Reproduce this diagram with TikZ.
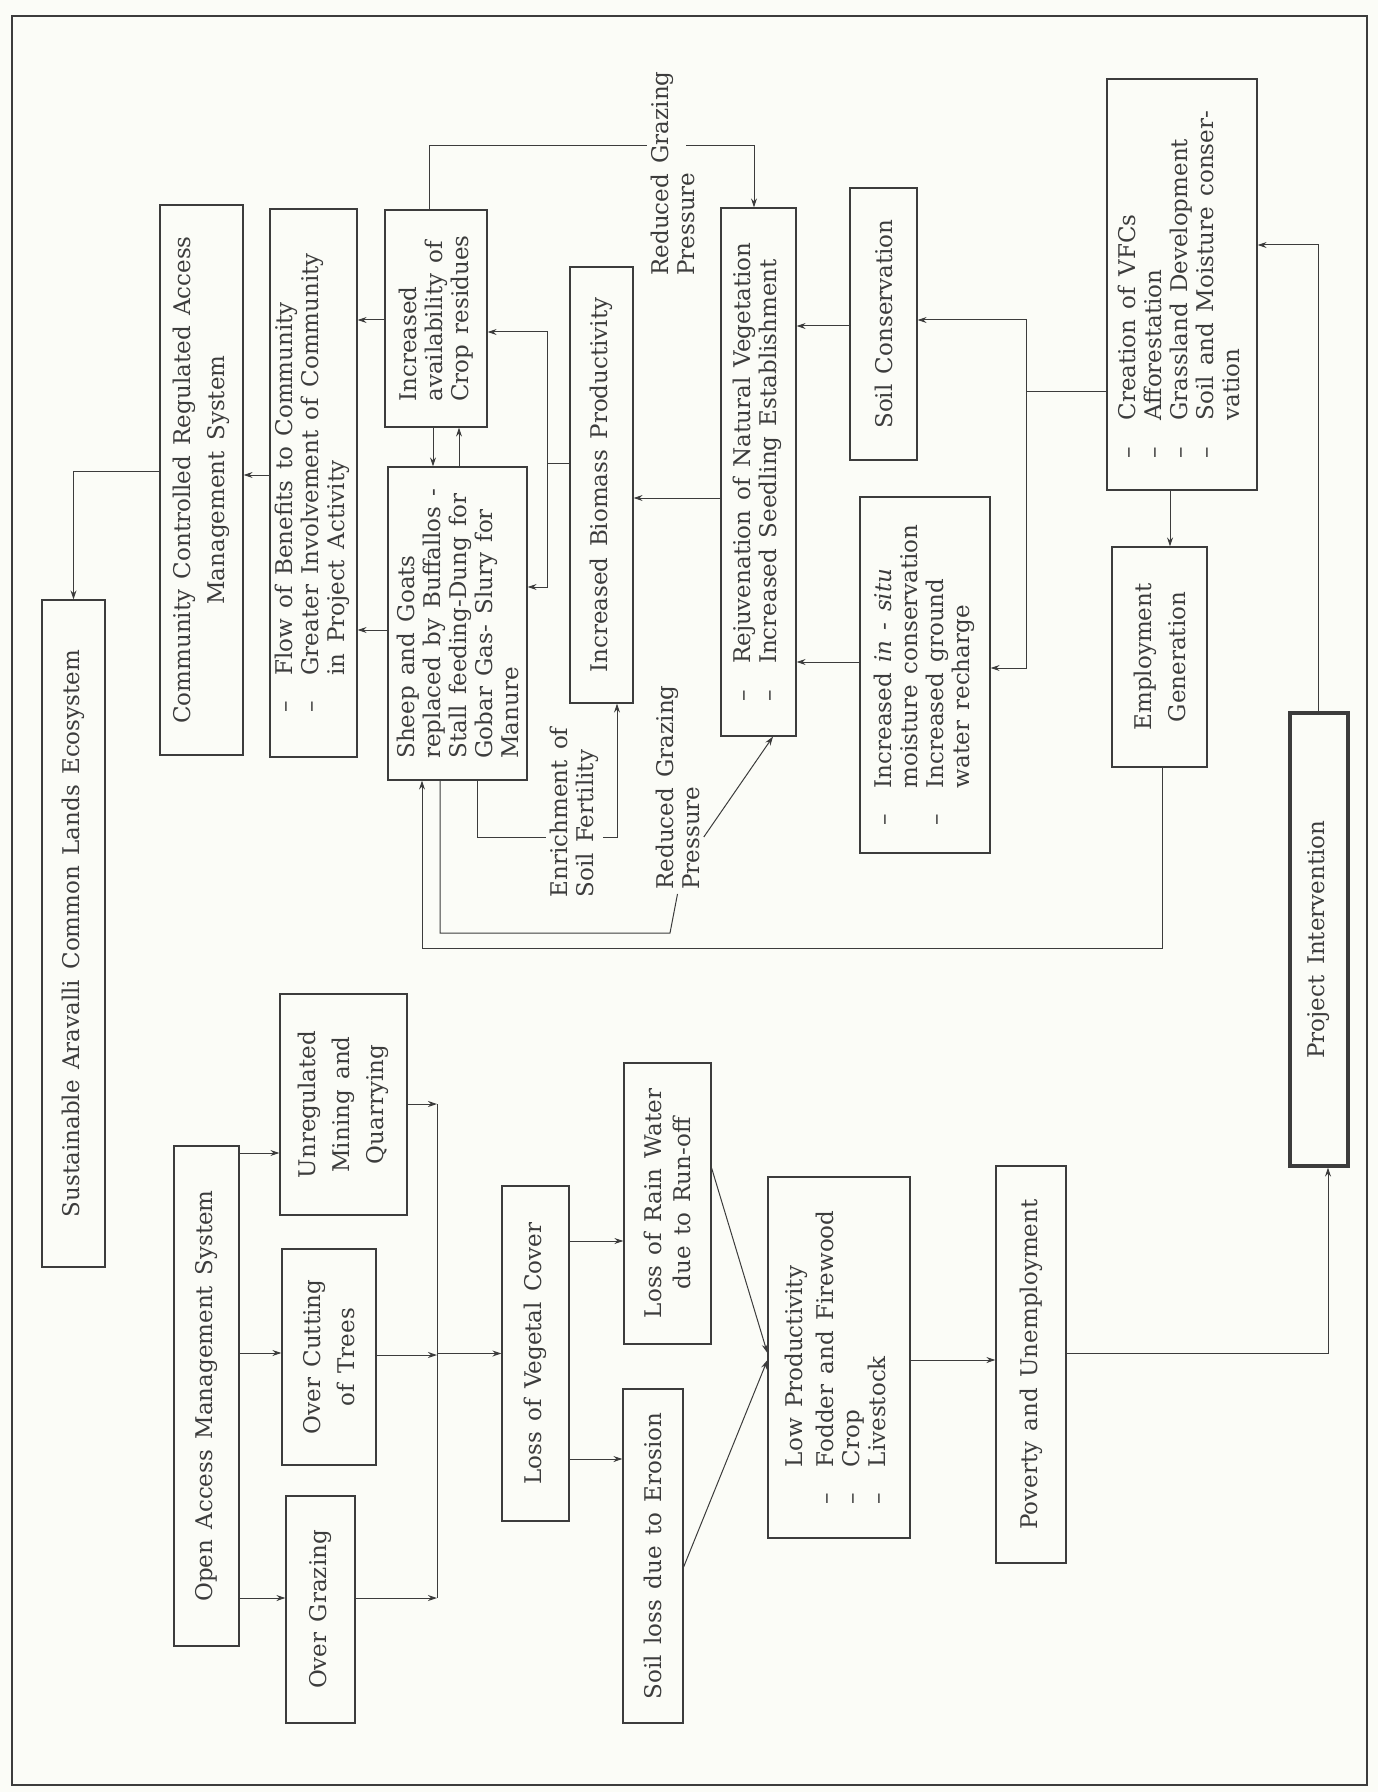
\documentclass[tikz,border=0pt]{standalone}
\usepackage{fontspec}
\setmainfont{DejaVu Serif}
\usetikzlibrary{arrows.meta}
\definecolor{inkcolor}{RGB}{60,60,60}
\definecolor{papercolor}{RGB}{251,252,247}
\newcommand{\diagfont}{\fontsize{11.5}{13}\selectfont\spaceskip=0.45em plus 0.1em minus 0.05em\relax}
\newcommand{\dashrows}[1]{\begin{tabular}{@{}l@{\hspace{13pt}}l@{}}#1\end{tabular}}

\begin{document}
\begin{tikzpicture}[
    x=0.5pt, y=-0.5pt,
    box/.style={draw=inkcolor, line width=0.6pt, rotate=90, inner sep=2pt, font=\diagfont, text=inkcolor, align=center},
    freetext/.style={rotate=90, inner sep=2pt, font=\diagfont, text=inkcolor, align=left},
    wire/.style={draw=inkcolor, line width=0.5pt},
    arr/.style={wire, -{Stealth[length=4.5pt, width=3pt]}}
]
    % Page and frame
    \fill[papercolor] (0,0) rectangle (1378,1792);
    \useasboundingbox (0,0) rectangle (1378,1792);
    \draw[draw=inkcolor, line width=1pt] (12,16) rectangle (1367,1785);

    % Outcome side
    \node[box, minimum width=333.5pt, minimum height=31.5pt] (sustain) at (73.5,933.5) {Sustainable Aravalli Common Lands Ecosystem};
    \node[box, minimum width=275pt, minimum height=41.5pt] (community) at (201.5,480) {Community Controlled Regulated Access\\[4pt]Management System};
    \node[box, minimum width=274pt, minimum height=43.5pt] (benefits) at (313.5,483) {\dashrows{\textendash & Flow of Benefits to Community\\ \textendash & Greater Involvement of Community\\ & in Project Activity}};
    \node[box, minimum width=108.5pt, minimum height=51pt, align=left] (residues) at (436,318.5) {Increased\\availability of\\Crop residues};
    \node[box, minimum width=156.5pt, minimum height=69.5pt, align=left] (sheep) at (457.5,623.5) {Sheep and Goats\\replaced by Buffallos -\\Stall feeding-Dung for\\Gobar Gas- Slury for\\Manure};
    \node[box, minimum width=218pt, minimum height=31.5pt] (biomass) at (601.5,485) {Increased Biomass Productivity};
    \node[box, minimum width=264pt, minimum height=37.5pt] (rejuv) at (758.5,472) {\dashrows{\textendash & Rejuvenation of Natural Vegetation\\ \textendash & Increased Seedling Establishment}};
    \node[box, minimum width=136pt, minimum height=33.5pt] (soilcons) at (883.5,324) {Soil Conservation};
    \node[box, minimum width=178pt, minimum height=65pt] (insitu) at (925,675) {\dashrows{\textendash & Increased \textit{in - situ}\\ & moisture conservation\\ \textendash & Increased ground\\ & water recharge}};
    \node[box, minimum width=205.5pt, minimum height=75pt] (vfc) at (1182,284.5) {\dashrows{\textendash & Creation of VFCs\\ \textendash & Afforestation\\ \textendash & Grassland Development\\ \textendash & Soil and Moisture conser-\\ & vation}};
    \node[box, minimum width=110pt, minimum height=47.5pt] (employ) at (1159.5,657) {Employment\\[4pt]Generation};
    \node[box, line width=1.6pt, minimum width=226.5pt, minimum height=29pt] (project) at (1319,939.5) {Project Intervention};

    % Free labels
    \node[freetext] (rgptop) at (673,173.5) {Reduced Grazing\\Pressure};
    \node[freetext] (rgpbot) at (677.5,787.5) {Reduced Grazing\\Pressure};
    \node[freetext] (enrich) at (574.5,812.5) {Enrichment of\\Soil Fertility};

    % Problem side
    \node[box, minimum width=250pt, minimum height=32.5pt] (openacc) at (206.5,1396) {Open Access Management System};
    \node[box, minimum width=110.5pt, minimum height=63.5pt] (mining) at (343.5,1104.5) {Unregulated\\[4pt]Mining and\\[4pt]Quarrying};
    \node[box, minimum width=108pt, minimum height=47pt] (cutting) at (329,1357) {Over Cutting\\[4pt]of Trees};
    \node[box, minimum width=113.5pt, minimum height=34.5pt] (grazing) at (320.5,1609.5) {Over Grazing};
    \node[box, minimum width=167.5pt, minimum height=33.5pt] (vegetal) at (535.5,1353.5) {Loss of Vegetal Cover};
    \node[box, minimum width=140.5pt, minimum height=43.5pt] (runoff) at (667.5,1203.5) {Loss of Rain Water\\[1.5pt]due to Run-off};
    \node[box, minimum width=167pt, minimum height=30pt] (erosion) at (653,1556) {Soil loss due to Erosion};
    \node[box, minimum width=180.5pt, minimum height=71pt] (lowprod) at (839,1357.5) {\dashrows{& Low Productivity\\[2.5pt] \textendash & Fodder and Firewood\\ \textendash & Crop\\ \textendash & Livestock}};
    \node[box, minimum width=198.5pt, minimum height=35pt] (poverty) at (1031,1364.5) {Poverty and Unemployment};

    % Causes
    \draw[arr] (openacc.south |- 0,1153) -- (mining.north |- 0,1153);
    \draw[arr] (openacc.south |- 0,1353) -- (cutting.north |- 0,1353);
    \draw[arr] (openacc.south |- 0,1598) -- (grazing.north |- 0,1598);
    \coordinate (ctop) at (437,1104);
    \coordinate (cbot) at (437,1598);
    \draw[wire] (ctop) -- (cbot);
    \draw[arr] (mining.south |- ctop) -- (ctop);
    \draw[arr] (cutting.south |- 0,1355) -- (ctop |- 0,1355);
    \draw[arr] (grazing.south |- cbot) -- (cbot);
    \draw[arr] (ctop |- vegetal.north) -- (vegetal.north);
    \draw[arr] (vegetal.south |- 0,1241) -- (runoff.north |- 0,1241);
    \draw[arr] (vegetal.south |- 0,1459) -- (erosion.north |- 0,1459);
    \draw[arr] (runoff.south |- 0,1168) -- (lowprod.north |- 0,1353);
    \draw[arr] (erosion.south |- 0,1567) -- (lowprod.north |- 0,1360);
    \draw[arr] (lowprod.south |- 0,1360) -- (poverty.north |- 0,1360);
    \draw[arr] (poverty.south |- 0,1353) -| (project.west -| 1328,0);

    % Intervention
    \draw[arr] (project.east -| 1318,0) |- (vfc.south |- 0,245);
    \draw[arr] (vfc.west -| 1170,0) -- (employ.east -| 1170,0);
    \coordinate (vfork) at (1026,391);
    \draw[wire] (vfc.north |- vfork) -- (vfork);
    \draw[arr] (vfork) |- (soilcons.south |- 0,320);
    \draw[arr] (vfork) |- (insitu.south |- 0,668);
    \draw[arr] (soilcons.north |- 0,326) -- (rejuv.south |- 0,326);
    \draw[arr] (insitu.north |- 0,662) -- (rejuv.south |- 0,662);
    \draw[arr] (rejuv.north |- 0,498) -- (biomass.south |- 0,498);

    % Benefits
    \coordinate (bfork) at (547,463);
    \draw[wire] (biomass.north |- bfork) -- (bfork);
    \draw[arr] (bfork) |- (residues.south |- 0,332);
    \draw[arr] (bfork) |- (sheep.south |- 0,587);
    \draw[arr] (residues.west -| 433,0) -- (sheep.east -| 433,0);
    \draw[arr] (sheep.east -| 459,0) -- (residues.west -| 459,0);
    \draw[arr] (residues.north |- 0,320) -- (benefits.south |- 0,320);
    \draw[arr] (sheep.north |- 0,630) -- (benefits.south |- 0,630);
    \draw[arr] (benefits.north |- 0,475) -- (community.south |- 0,475);
    \draw[arr] (community.north |- 0,471) -| (sustain.east);

    % Feedback loops
    \coordinate (rgpout) at (686,146);
    \draw[wire] (residues.east -| 429,0) |- (rgptop.north |- rgpout);
    \draw[arr] (rgpout) -| (rejuv.east -| 754,0);
    \draw[wire] (sheep.west -| 440,0) |- (670,933) -- (rgpbot.west);
    \draw[arr] (rgpbot.south |- 0,837) -- (rejuv.west -| 773,0);
    \draw[wire] (sheep.west -| 477,0) |- (enrich.north |- 0,837);
    \draw[arr] (enrich.south |- 0,837) -| (biomass.west -| 617,0);
    \coordinate (eloop) at (422,948);
    \draw[arr] (employ.west -| 1162,0) |- (eloop) -- (sheep.west -| eloop);
\end{tikzpicture}
\end{document}
